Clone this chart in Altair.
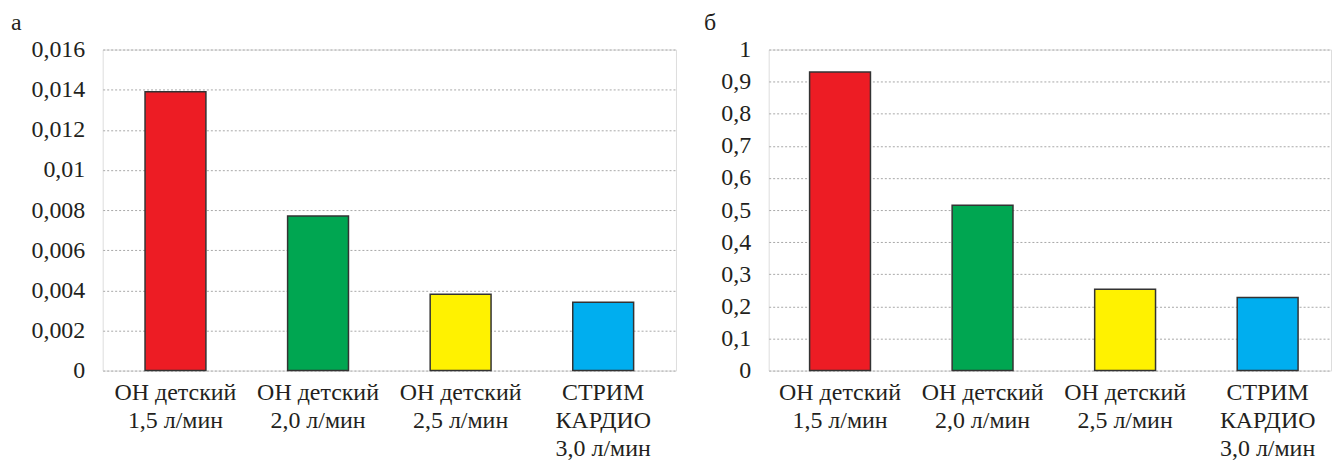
import altair as alt
import pandas as pd

# Pump variants and the two measured quantities (panels "а" and "б")
categories = [
    "ОН детский\n1,5 л/мин",
    "ОН детский\n2,0 л/мин",
    "ОН детский\n2,5 л/мин",
    "СТРИМ\nКАРДИО\n3,0 л/мин",
]
values_a = [0.0139, 0.0077, 0.0038, 0.0034]
values_b = [0.93, 0.515, 0.253, 0.228]
bar_colors = ["#ED1C24", "#00A651", "#FFF200", "#00AEEF"]

ticks_a = [0, 0.002, 0.004, 0.006, 0.008, 0.01, 0.012, 0.014, 0.016]
ticks_b = [0, 0.1, 0.2, 0.3, 0.4, 0.5, 0.6, 0.7, 0.8, 0.9, 1]

FONT = "'Liberation Serif', 'Times New Roman', serif"
INK = "#231F20"
SIZE = 24

df_a = pd.DataFrame({"cat": categories, "value": values_a, "color": bar_colors})
df_b = pd.DataFrame({"cat": categories, "value": values_b, "color": bar_colors})


def panel(df, letter, ticks, fmt, width, y_extent, scale_kw, title_dx):
    x = alt.X(
        "cat:N",
        sort=categories,
        title=None,
        scale=alt.Scale(**scale_kw),
        axis=alt.Axis(
            labelAngle=0,
            labelExpr="split(datum.label, '\\n')",
            labelFont=FONT,
            labelFontSize=SIZE,
            labelColor=INK,
            labelLineHeight=28,
            labelPadding=10,
            labelBaseline="top",
            domain=False,
            ticks=False,
            grid=False,
            maxExtent=88,
            minExtent=88,
        ),
    )
    y = alt.Y(
        "value:Q",
        title=None,
        scale=alt.Scale(domain=[ticks[0], ticks[-1]], nice=False),
        axis=alt.Axis(
            values=ticks,
            labelExpr=f"replace(format(datum.value, '{fmt}'), '.', ',')",
            labelFont=FONT,
            labelFontSize=SIZE,
            labelColor=INK,
            labelPadding=18,
            domain=False,
            ticks=False,
            grid=True,
            gridColor="#a8a8a8",
            gridDash=[2, 2],
            gridWidth=1,
            minExtent=y_extent,
            maxExtent=y_extent,
        ),
    )
    return (
        alt.Chart(df)
        .mark_bar(stroke="#333333", strokeWidth=1.5)
        .encode(x=x, y=y, color=alt.Color("color:N", scale=None))
        .properties(
            width=width,
            height=322,
            title=alt.TitleParams(
                letter,
                anchor="start",
                frame="bounds",
                font=FONT,
                fontSize=SIZE,
                fontWeight="normal",
                color=INK,
                dx=title_dx,
                dy=-3,
                offset=0,
            ),
        )
    )


left = panel(
    df_a, "а", ticks_a, ".3~f", 575, 102,
    dict(paddingInner=0.573, paddingOuter=0.297), 10,
)
right = panel(
    df_b, "б", ticks_b, ".1~f", 564, 91,
    dict(paddingInner=0.573, paddingOuter=0.259, align=0.554), 26,
)

chart = (
    alt.hconcat(left, right, spacing=0)
    .properties(padding={"left": 0, "right": 0, "top": 9, "bottom": 0})
    .configure_view(stroke=None)
    .configure(background="white")
)

chart.save("out.html", embed_options={"renderer": "svg", "actions": False})
